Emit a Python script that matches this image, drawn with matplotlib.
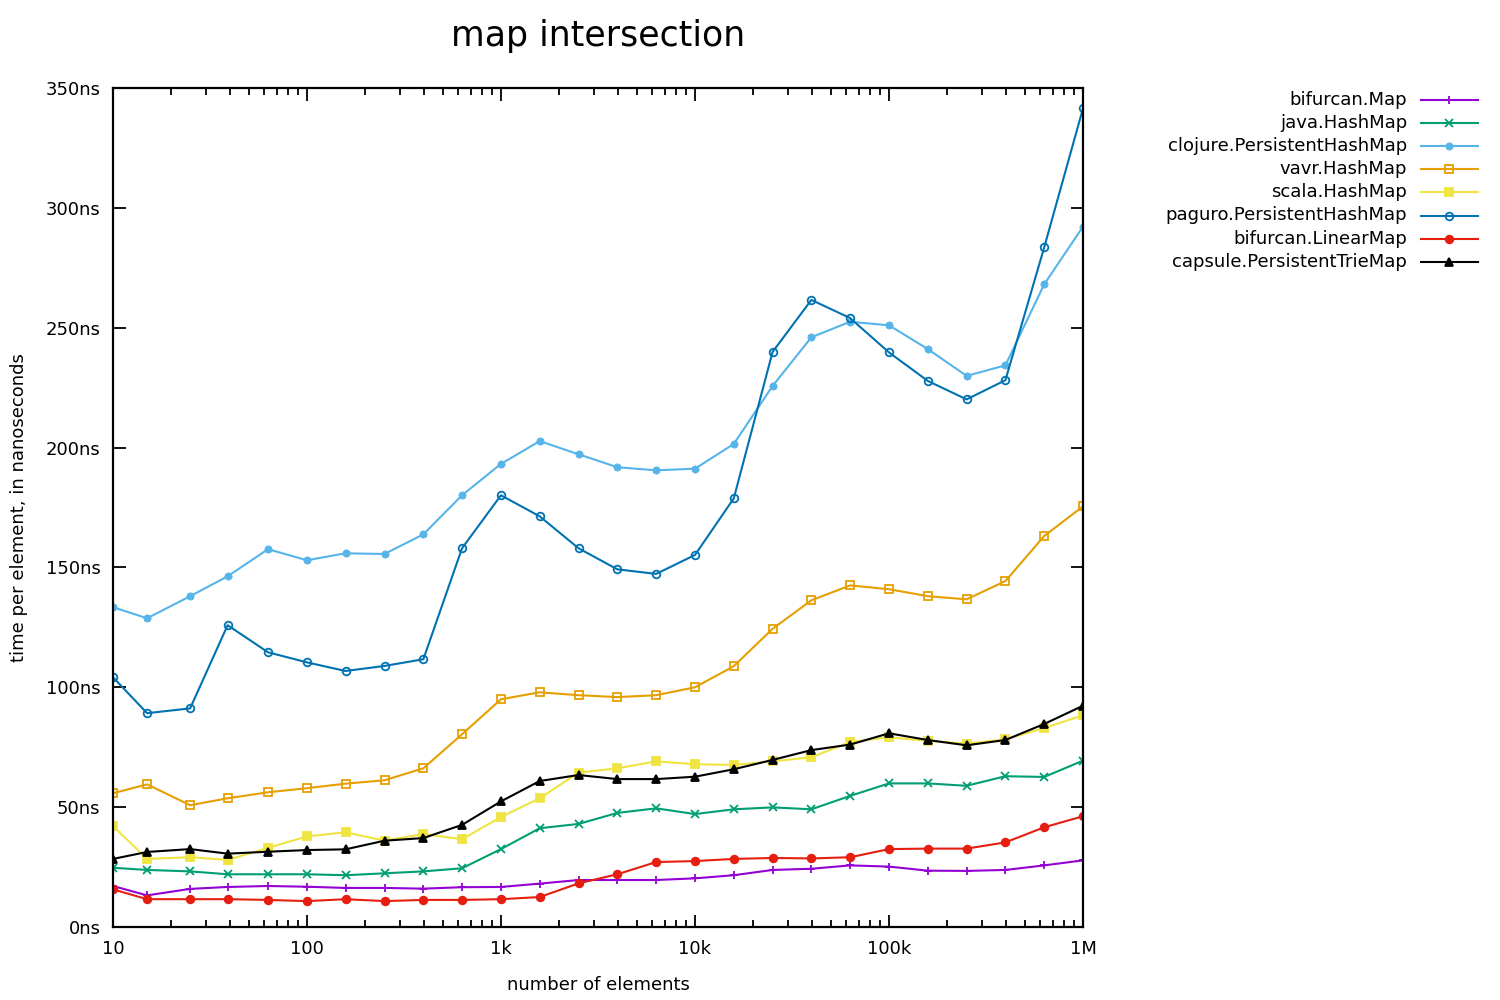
import matplotlib
matplotlib.use("Agg")
import matplotlib.pyplot as plt
from matplotlib.lines import Line2D
from matplotlib.ticker import FixedLocator, LogLocator, NullFormatter

# number of elements per run
sizes = [10, 15, 25, 39, 63, 100, 158, 251, 398, 630,
         1000, 1584, 2511, 3981, 6309, 10000, 15848, 25118, 39810, 63095,
         100000, 158489, 251188, 398107, 630957, 1000000]

# time per element, ns
bifurcan_map = [17.1, 13.2, 15.9, 16.7, 17.1, 16.8, 16.3, 16.3, 16.0, 16.6,
                16.7, 18.1, 19.6, 19.6, 19.6, 20.3, 21.6, 23.8, 24.3, 25.7,
                25.2, 23.5, 23.4, 23.8, 25.7, 27.8]
java_hashmap = [24.7, 23.8, 23.2, 22.0, 22.0, 22.0, 21.6, 22.4, 23.2, 24.5,
                32.5, 41.2, 43.0, 47.6, 49.5, 47.1, 49.1, 49.9, 49.1, 54.7,
                59.9, 59.9, 58.9, 62.9, 62.6, 69.4]
clojure_phm = [133.4, 128.8, 138.0, 146.3, 157.6, 153.0, 155.9, 155.6, 163.8, 180.1,
               193.2, 202.7, 197.2, 191.8, 190.5, 191.2, 201.5, 225.7, 246.0, 252.5,
               251.0, 241.1, 229.9, 234.3, 268.1, 292.2]
vavr_hashmap = [55.8, 59.5, 50.8, 53.7, 56.2, 57.9, 59.8, 61.2, 66.2, 80.4,
                95.0, 97.9, 96.7, 95.9, 96.7, 100.0, 108.8, 124.4, 136.3, 142.5,
                140.9, 138.0, 136.7, 144.3, 163.1, 175.5]
scala_hashmap = [42.1, 28.4, 29.1, 28.0, 33.0, 37.8, 39.5, 36.0, 38.8, 36.6,
                 45.9, 53.7, 64.4, 66.2, 69.1, 67.9, 67.6, 69.1, 70.8, 77.2,
                 79.1, 77.6, 76.5, 78.3, 83.0, 88.3]
paguro_phm = [104.2, 89.2, 91.2, 125.9, 114.6, 110.4, 106.8, 108.9, 111.7, 158.0,
              180.1, 171.3, 158.0, 149.2, 147.3, 155.2, 178.8, 239.9, 261.6, 254.0,
              239.7, 227.8, 220.1, 228.1, 283.5, 341.5]
bifurcan_linear = [15.7, 11.6, 11.6, 11.6, 11.3, 10.8, 11.6, 10.8, 11.3, 11.3,
                   11.6, 12.5, 18.2, 22.0, 27.1, 27.5, 28.4, 28.8, 28.6, 29.1,
                   32.5, 32.7, 32.7, 35.3, 41.6, 46.2]
capsule_ptm = [28.4, 31.3, 32.5, 30.6, 31.4, 32.1, 32.4, 36.0, 37.1, 42.6,
               52.4, 60.9, 63.4, 61.7, 61.7, 62.7, 65.8, 69.7, 73.8, 76.1,
               80.8, 78.0, 75.8, 78.0, 84.7, 92.3]

x_ticks = [10, 100, 1000, 10000, 100000, 1000000]
x_tick_labels = ["10", "100", "1k", "10k", "100k", "1M"]
y_ticks = [0, 50, 100, 150, 200, 250, 300, 350]

series = [
    ("bifurcan.Map", bifurcan_map, "#9400d3", "+", "#9400d3"),
    ("java.HashMap", java_hashmap, "#009e73", "x", "#009e73"),
    ("clojure.PersistentHashMap", clojure_phm, "#56b4e9", (8, 2, 0), "#56b4e9"),
    ("vavr.HashMap", vavr_hashmap, "#e69f00", "s", "none"),
    ("scala.HashMap", scala_hashmap, "#f0e442", "s", "#f0e442"),
    ("paguro.PersistentHashMap", paguro_phm, "#0072b2", "o", "none"),
    ("bifurcan.LinearMap", bifurcan_linear, "#e51e10", "o", "#e51e10"),
    ("capsule.PersistentTrieMap", capsule_ptm, "#000000", "^", "#000000"),
]

fig = plt.figure(figsize=(15, 10), dpi=100)
ax = fig.add_axes([0.0753, 0.073, 0.6467, 0.839])

for name, vals, color, marker, face in series:
    ax.plot(sizes, vals, color=color, lw=1.5, marker=marker, ms=5.5,
            mfc=face, mec=color, mew=1.3, label=name)

ax.set_xscale("log")
ax.set_xlim(10, 1000000)
ax.set_ylim(0, 350)
ax.xaxis.set_major_locator(FixedLocator(x_ticks))
ax.set_xticklabels(x_tick_labels)
ax.xaxis.set_minor_locator(LogLocator(base=10, subs=range(2, 10)))
ax.xaxis.set_minor_formatter(NullFormatter())
ax.set_yticks(y_ticks)
ax.set_yticklabels([f"{v}ns" for v in y_ticks])

ax.tick_params(which="both", direction="in", top=True, right=True,
               labelsize=13, width=1.3, pad=9)
ax.tick_params(which="major", length=9)
ax.tick_params(which="minor", length=5)
for sp in ax.spines.values():
    sp.set_linewidth(1.6)

ax.set_title("map intersection", fontsize=25, pad=30)
ax.set_xlabel("number of elements", fontsize=13, labelpad=13)
ax.set_ylabel("time per element, in nanoseconds", fontsize=13)
ax.yaxis.set_label_coords(-0.088, 0.5)

# gnuplot-style key: right-aligned labels, sample line with marker in middle
key_top = 0.900
key_step = 0.0231
for i, (name, vals, color, marker, face) in enumerate(series):
    y = key_top - i * key_step
    fig.text(0.938, y, name, ha="right", va="center", fontsize=13)
    fig.add_artist(Line2D([0.947, 0.966, 0.985], [y, y, y], color=color, lw=1.5,
                          marker=marker, ms=5.5, mfc=face, mec=color, mew=1.3,
                          markevery=[1], transform=fig.transFigure))

fig.savefig("out.png", dpi=100)
plt.close(fig)
